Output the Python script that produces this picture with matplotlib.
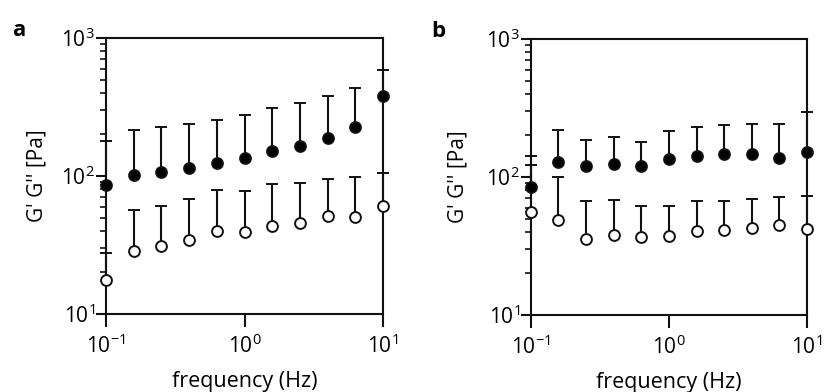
"""Two-panel log-log plot of G' and G'' versus frequency with upper error bars."""

import matplotlib.pyplot as plt
import numpy as np
from matplotlib.ticker import LogLocator, NullLocator, NullFormatter

plt.rcParams["font.family"] = ["Open Sans", "DejaVu Sans"]
plt.rcParams["mathtext.default"] = "regular"
plt.rcParams["axes.unicode_minus"] = False

freq = [0.1, 0.158, 0.251, 0.398, 0.631, 1.0, 1.585, 2.512, 3.981, 6.31, 10.0]

# panel a
a_gp = [85.5, 101, 107, 115, 124, 134, 151, 166, 187, 226, 382]
a_gp_top = [178, 217, 228, 239, 255, 278, 312, 338, 378, 434, 583]
a_gpp = [17.5, 28.8, 30.9, 34.6, 39.7, 39.1, 43.7, 45.6, 51, 50.5, 61]
a_gpp_top = [27.7, 57, 61, 68.5, 79.6, 77.9, 87.5, 89, 95, 98, 106]

# panel b
b_gp = [84, 129, 121, 124, 121, 136, 143, 147, 147, 138, 152]
b_gp_top = [142, 219, 187, 194, 180, 215, 231, 238, 244, 244, 297]
b_gpp = [55.8, 48.9, 35.8, 38, 36.6, 37.4, 40.9, 41.3, 43, 45.2, 41.8]
b_gpp_top = [122, 99.5, 66.7, 68.2, 62, 62, 67, 67, 68.9, 72, 73]


def draw_panel(ax, gp, gp_top, gpp, gpp_top, letter, ylab_x, letter_x):
    for vals, tops, face in [(gp, gp_top, "black"), (gpp, gpp_top, "white")]:
        vals = np.array(vals)
        up = np.array(tops) - vals
        eb = ax.errorbar(freq, vals, yerr=[np.zeros_like(up), up], fmt="o",
                         color="#111", markerfacecolor=face, markeredgecolor="#111",
                         markersize=7.8, markeredgewidth=1.4, elinewidth=1.5,
                         capsize=4.5, capthick=1.5, zorder=3)
        marker_line, caps, bars = eb.lines
        # only the upper cap is shown
        caps[0].set_visible(False)
        for artist in (marker_line,) + tuple(caps) + tuple(bars):
            artist.set_clip_on(False)
        marker_line.set_zorder(5)

    ax.set_xscale("log")
    ax.set_yscale("log")
    ax.set_xlim(0.1, 10)
    ax.set_ylim(10, 1000)

    ax.xaxis.set_major_locator(LogLocator(base=10, numticks=5))
    ax.xaxis.set_minor_locator(NullLocator())
    ax.yaxis.set_major_locator(LogLocator(base=10, numticks=5))
    ax.yaxis.set_minor_locator(LogLocator(base=10, subs=np.arange(2, 10), numticks=12))
    ax.yaxis.set_minor_formatter(NullFormatter())

    for s in ax.spines.values():
        s.set_linewidth(1.5)
        s.set_color("#111")
    ax.tick_params(axis="x", which="major", length=9, width=1.5, direction="out",
                   labelsize=15, pad=6, color="#111")
    ax.tick_params(axis="y", which="major", length=7, width=1.5, direction="out",
                   labelsize=15, pad=1, color="#111")
    ax.tick_params(axis="y", which="minor", length=4.5, width=1.2, direction="out",
                   color="#111")

    ax.set_xlabel("frequency (Hz)", fontsize=15.5)
    ax.xaxis.set_label_coords(0.5, -0.205)
    ax.set_ylabel("G' G'' [Pa]", fontsize=15, va="center")
    ax.yaxis.set_label_coords(ylab_x, 0.5)
    ax.text(letter_x, 0.99, letter, transform=ax.transAxes, fontsize=16,
            fontweight="bold", ha="left", va="bottom")


fig = plt.figure(figsize=(8.25, 3.92), dpi=100)
ax1 = fig.add_axes([0.1285, 0.199, 0.3358, 0.704])
ax2 = fig.add_axes([0.6436, 0.1964, 0.3345, 0.704])

draw_panel(ax1, a_gp, a_gp_top, a_gpp, a_gpp_top, "a", -0.249, -0.34)
draw_panel(ax2, b_gp, b_gp_top, b_gpp, b_gpp_top, "b", -0.264, -0.36)

fig.savefig("out.png", dpi=100)
